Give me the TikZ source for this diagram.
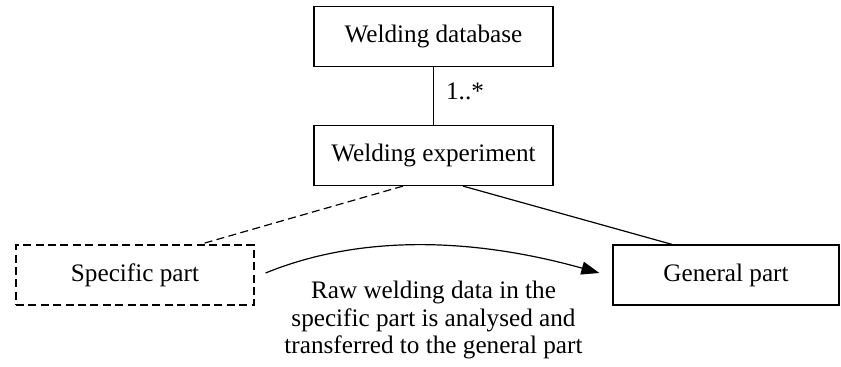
\documentclass[tikz,border=0pt]{standalone}
\usepackage{fontspec}
\setmainfont{Liberation Serif}
\usetikzlibrary{arrows.meta}
\begin{document}
\begin{tikzpicture}[x=0.5pt,y=-0.5pt,
  every node/.style={font=\fontsize{12.6pt}{13.75pt}\selectfont},
  box/.style={draw,line width=0.6pt,rectangle,inner sep=0pt,
    minimum height=30pt},
  dashedbox/.style={box,dash pattern=on 4pt off 2.2pt},
  link/.style={line width=0.6pt},
  dashlink/.style={link,dash pattern=on 4pt off 2.2pt},
  flow/.style={line width=0.6pt,-{Triangle[length=9pt,width=6.5pt]}}]
  \useasboundingbox (0,0) rectangle (841,367);

  % class boxes
  \node[box,minimum width=119.5pt] (db)   at (433.5,36.5)  {Welding database};
  \node[box,minimum width=119.5pt] (exp)  at (433.5,155.5) {Welding experiment};
  \node[dashedbox,minimum width=119pt] (spec) at (135,275) {Specific part};
  \node[box,minimum width=113pt] (gen)  at (726,275)   {General part};

  % associations
  \draw[link] (db.south) -- node[anchor=base west,inner sep=0pt,
    xshift=6pt,yshift=-2pt] (mult) {1..*} (exp.north);
  \draw[dashlink] ([xshift=-15.25pt]exp.south) -- ([xshift=32.5pt]spec.north);
  \draw[link] ([xshift=14.75pt]exp.south) -- ([xshift=-27pt]gen.north);

  % data transfer
  \draw[flow] ([xshift=5.5pt,yshift=1pt]spec.east)
    .. controls (356,236) and (467,236) .. ([xshift=-6.5pt,yshift=1pt]gen.west);
  \node[anchor=north,align=center,inner sep=0pt] (note) at (433.5,281)
    {Raw welding data in the\\ specific part is analysed and\\
     transferred to the general part};
\end{tikzpicture}
\end{document}
